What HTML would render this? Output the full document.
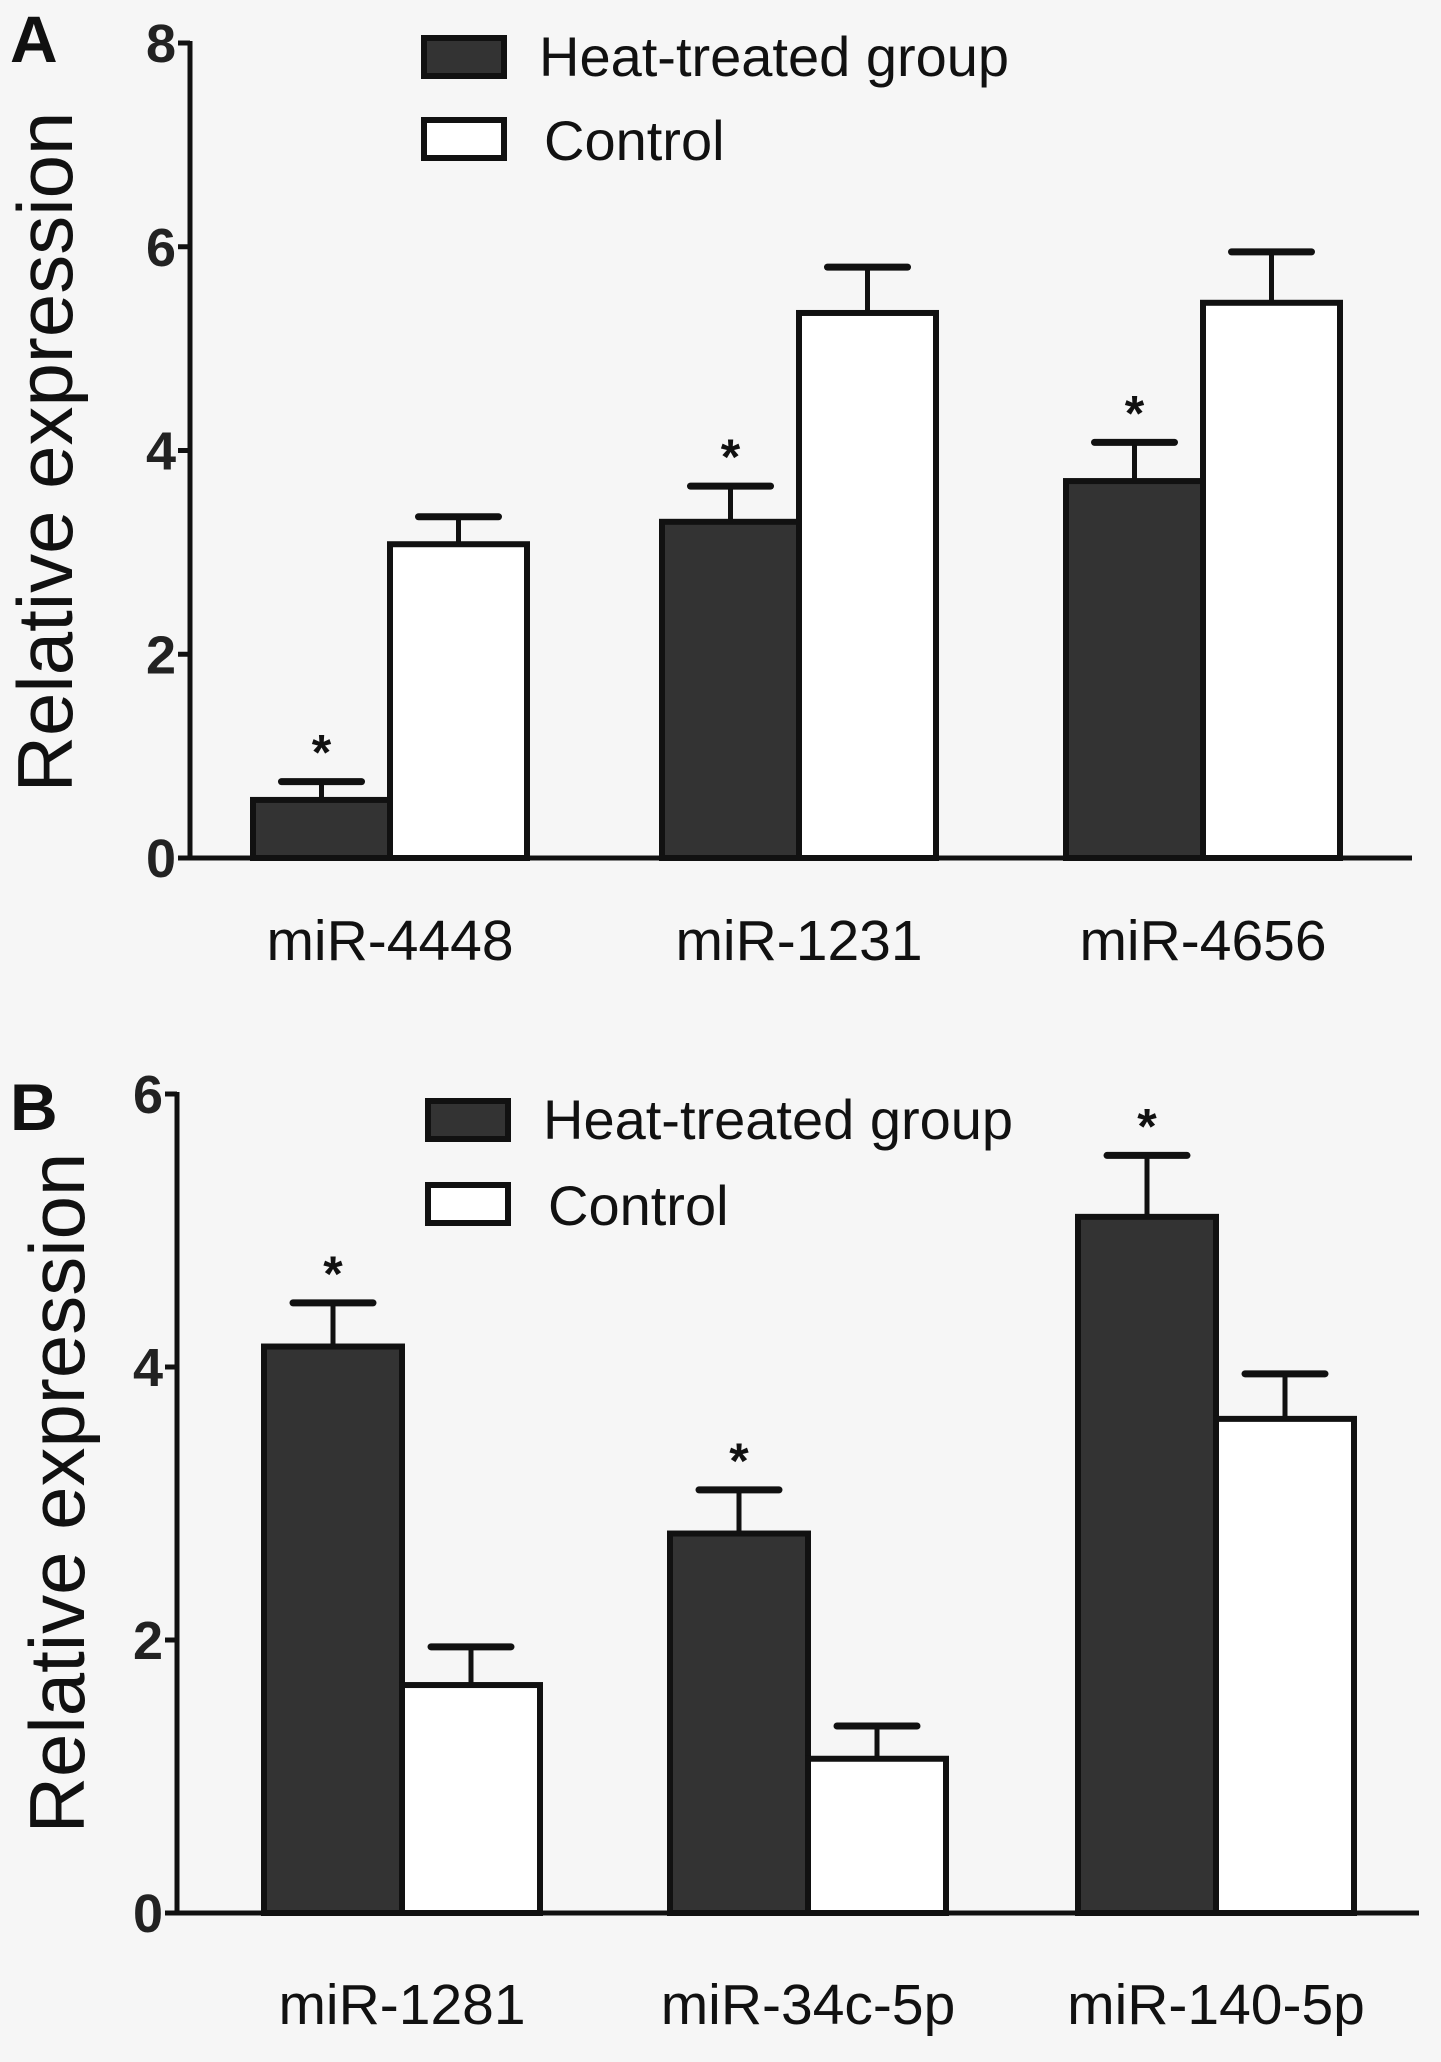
<!DOCTYPE html>
<html><head><meta charset="utf-8"><style>
html,body{margin:0;padding:0;background:#f6f6f6;}
svg{display:block;font-family:"Liberation Sans",Arial,sans-serif;}
</style></head><body>
<svg id="fig" width="1441" height="2062" viewBox="0 0 1441 2062">
<rect x="0" y="0" width="1441" height="2062" fill="#f6f6f6"/>
</svg>
<script>
const catsA = ["miR-4448","miR-1231","miR-4656"];
const heatA = [0.57,3.3,3.7];
const heatErrA = [0.18,0.35,0.38];
const ctrlA = [3.08,5.35,5.45];
const ctrlErrA = [0.27,0.45,0.5];
const sigA = [true,true,true];
const ticksA = [0,2,4,6,8];

const catsB = ["miR-1281","miR-34c-5p","miR-140-5p"];
const heatB = [4.15,2.78,5.1];
const heatErrB = [0.32,0.32,0.45];
const ctrlB = [1.67,1.13,3.62];
const ctrlErrB = [0.28,0.24,0.33];
const sigB = [true,true,true];
const ticksB = [0,2,4,6];

const NS="http://www.w3.org/2000/svg";
const svg=document.getElementById('fig');
function mk(tag,attrs,parent,text){const e=document.createElementNS(NS,tag);for(const k in attrs)e.setAttribute(k,attrs[k]);if(text!==undefined)e.textContent=text;(parent||svg).appendChild(e);return e;}

function panel(cfg){
  const g=mk('g',{});
  
  
  const y=v=>cfg.y0-(v-0)/(cfg.ymax)*(cfg.y0-cfg.yTop);
  const L=mk('text',{x:cfg.letterX,y:cfg.letterY,'font-size':66,'font-weight':'bold',fill:'#111'},g,cfg.letter);
  
  
  const ax=mk('line',{x1:cfg.axX,y1:y(cfg.ymax)-2,x2:cfg.axX,y2:cfg.y0,stroke:'#111','stroke-width':5},g);
  
  
  const xa=mk('line',{x1:cfg.axX-2,y1:cfg.y0,x2:cfg.axEnd,y2:cfg.y0,stroke:'#111','stroke-width':5},g);
  
  
  cfg.ticks.forEach(t=>{
    const tk=mk('line',{x1:cfg.axX-12,y1:y(t),x2:cfg.axX,y2:y(t),stroke:'#111','stroke-width':5},g);
    
    
    const tl=mk('text',{x:cfg.axX-14,y:y(t)+19,'font-size':54,'font-weight':'bold','text-anchor':'end',fill:'#222'},g,String(t));
    
    
  });
  const yt=mk('text',{x:0,y:0,'font-size':78,'text-anchor':'middle',fill:'#111',transform:`translate(${cfg.ytX},${cfg.ytY}) rotate(-90)`},g,'Relative expression');
  
  
  cfg.cats.forEach((c,i)=>{
    const cx=cfg.catX[i], w=cfg.barW;
    const series=[[cfg.heat,cfg.heatErr,'#333',cx-w],[cfg.ctrl,cfg.ctrlErr,'#fff',cx]];
    series.forEach(([vals,errs,fill,x0],si)=>{
      const top=y(vals[i]), etop=y(vals[i]+errs[i]);
      const mid=x0+w/2;
      const el=mk('line',{x1:mid,y1:top,x2:mid,y2:etop,stroke:'#111','stroke-width':5},g);
      
      
      const cap=mk('line',{x1:mid-40,y1:etop,x2:mid+40,y2:etop,stroke:'#111','stroke-width':7,'stroke-linecap':'round'},g);
      
      
      const r=mk('rect',{x:x0,y:top,width:w,height:cfg.y0-top,fill:fill,stroke:'#111','stroke-width':6},g);
      
      
      if(si===0&&cfg.sig[i]){
        const s=mk('text',{x:mid,y:etop-12,'font-size':50,'font-weight':'bold','text-anchor':'middle',fill:'#111'},g,'*');
        
        
      }
    });
    const cl=mk('text',{x:cx,y:cfg.catY,'font-size':57,'text-anchor':'middle',fill:'#111'},g,c);
    
    
  });
  const s1=mk('rect',{x:cfg.legX,y:cfg.legY1,width:80,height:38,fill:'#333',stroke:'#111','stroke-width':6},g);
  
  
  const t1=mk('text',{x:cfg.legX+115,y:cfg.legY1+38,'font-size':56,fill:'#111'},g,'Heat-treated group');
  
  
  const s2=mk('rect',{x:cfg.legX,y:cfg.legY2,width:80,height:38,fill:'#fff',stroke:'#111','stroke-width':6},g);
  
  
  const t2=mk('text',{x:cfg.legX+120,y:cfg.legY2+40,'font-size':56,fill:'#111'},g,'Control');
  
  
}

panel({name:'panel-a',letter:'A',letterX:10,letterY:62,axX:190,axEnd:1412,y0:858,yTop:43,ymax:8,ticks:ticksA,
  cats:catsA,heat:heatA,heatErr:heatErrA,ctrl:ctrlA,ctrlErr:ctrlErrA,sig:sigA,catX:[390,799,1203],barW:137,catY:960,
  ytX:72,ytY:452,legX:424,legY1:38,legY2:120});
panel({name:'panel-b',letter:'B',letterX:10,letterY:1130,axX:177,axEnd:1419,y0:1913,yTop:1094,ymax:6,ticks:ticksB,
  cats:catsB,heat:heatB,heatErr:heatErrB,ctrl:ctrlB,ctrlErr:ctrlErrB,sig:sigB,catX:[402,808,1216],barW:138,catY:2024,
  ytX:84,ytY:1493,legX:428,legY1:1101,legY2:1185});
</script>
</body></html>
